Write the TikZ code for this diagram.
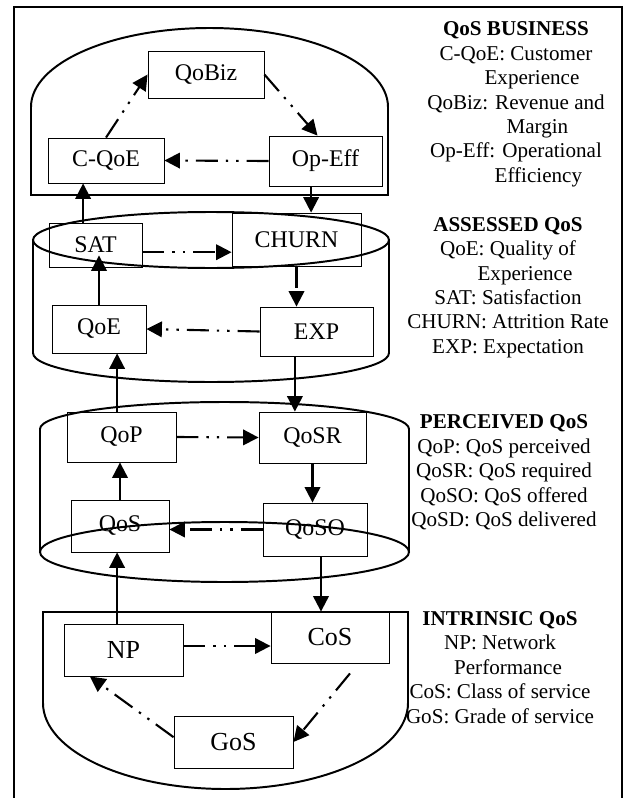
\documentclass[tikz,border=0pt]{standalone}
\usepackage{fontspec}
\setmainfont{Liberation Serif}
\usepackage{tikz}
\usetikzlibrary{calc, arrows.meta, positioning}

\begin{document}
\begin{tikzpicture}[
    qbox/.style={draw, line width=0.6pt, minimum height=1.25cm, inner sep=2pt, font=\fontsize{17}{20}\selectfont},
    flow/.style={-{Triangle[length=11pt,width=11pt]}, line width=1.5pt},
    dashflow/.style={flow, dash pattern=on 0.55cm off 0.2cm on 0.06cm off 0.2cm on 0.06cm off 0.2cm},
    layer/.style={line width=1.4pt},
    legend/.style={align=center, inner sep=0pt, font=\fontsize{15}{17.4}\selectfont}
]
\useasboundingbox (0,0) rectangle (15.675,-19.95);

% Frame
\draw[line width=0.8pt] (0.35,-19.95) -- (0.35,-0.175) -- (15.55,-0.175) -- (15.55,-19.95);

% Layers
\draw[layer] (0.775,-4.875) -- (0.775,-2.675) arc[start angle=180, end angle=0, x radius=4.4625, y radius=1.975] -- (9.7,-4.875) -- cycle;
\draw[layer] (5.275,-6.0) ellipse[x radius=4.45, y radius=0.7];
\draw[layer] (0.825,-6.0) -- (0.825,-8.825) arc[start angle=180, end angle=360, x radius=4.45, y radius=0.725] -- (9.725,-6.0);
\draw[layer] (1.0,-13.8) -- (1.0,-10.725) arc[start angle=180, end angle=0, x radius=4.6125, y radius=0.675] -- (10.225,-13.8);
\draw[layer] (5.6125,-13.8) ellipse[x radius=4.6125, y radius=0.75];
\draw[layer] (1.075,-15.3) -- (1.075,-17.575) arc[start angle=180, end angle=360, x radius=4.5625, y radius=2.15] -- (10.2,-15.3) -- cycle;

% Main Nodes
\node[qbox, minimum width=2.9cm, minimum height=1.175cm] (qobiz) at (5.15,-1.8625) {QoBiz};
\node[qbox, minimum width=2.9cm, minimum height=1.125cm] (cqoe) at (2.65,-4.0125) {C-QoE};
\node[qbox, minimum width=2.825cm] (opeff) at (8.1375,-4.025) {Op-Eff};
\node[qbox, minimum width=2.325cm, minimum height=1.1cm] (sat) at (2.3875,-6.125) {SAT};
\node[qbox, minimum width=3.225cm, minimum height=1.325cm] (churn) at (7.4125,-5.9875) {CHURN};
\node[qbox, minimum width=2.35cm, minimum height=1.2cm] (qoe) at (2.475,-8.225) {QoE};
\node[qbox, minimum width=2.825cm, minimum height=1.225cm] (exp) at (7.9125,-8.2875) {EXP};
\node[qbox, minimum width=2.725cm] (qop) at (3.0375,-10.925) {QoP};
\node[qbox, minimum width=2.675cm, minimum height=1.275cm] (qosr) at (7.8125,-10.9375) {QoSR};
\node[qbox, minimum width=2.45cm, minimum height=1.3cm] (qos) at (3.0,-13.15) {QoS};
\node[qbox, minimum width=2.6cm, minimum height=1.325cm] (qoso) at (7.875,-13.2375) {QoSO};
\node[qbox, minimum width=2.975cm, minimum height=1.3cm, font=\fontsize{18.5}{22}\selectfont] (np) at (3.0875,-16.25) {NP};
\node[qbox, minimum width=2.95cm, minimum height=1.275cm, font=\fontsize{18.5}{22}\selectfont] (cos) at (8.25,-15.9375) {CoS};
\node[qbox, minimum width=2.975cm, minimum height=1.3cm, font=\fontsize{18.5}{22}\selectfont] (gos) at (5.8375,-18.55) {GoS};

% Business arrows
\draw[dashflow] (cqoe.north) -- (qobiz.west);
\draw[dashflow] (qobiz.east) -- ([xshift=-0.2cm]opeff.north);
\draw[dashflow] (opeff.west) -- (cqoe.east);

% Between layers
\draw[flow] ([xshift=-0.36cm]opeff.south) -- ([xshift=-0.36cm]opeff.south |- churn.north);
\draw[flow] ([xshift=-0.31cm]sat.north) -- ([xshift=-0.31cm]sat.north |- cqoe.south);

% Assessed arrows
\draw[dashflow] ([yshift=-0.18cm]sat.east) -- ([yshift=-0.18cm]sat.east -| churn.west);
\draw[dashflow] (churn.south) -- (churn.south |- exp.north);
\draw[dashflow] (exp.west) -- (qoe.east);
\draw[flow] (qoe.north) -- ($(qoe.north |- sat.south)+(0,0.3)$);

% Between layers
\draw[flow] ([xshift=-0.54cm]exp.south) -- ([xshift=-0.54cm]exp.south |- qosr.north);
\draw[flow] ([xshift=-0.11cm]qop.north) -- ([xshift=-0.11cm]qop.north |- qoe.south);

% Perceived arrows
\draw[dashflow] (qop.east) -- (qosr.west);
\draw[flow] (qosr.south) -- (qosr.south |- qoso.north);
\draw[dashflow] (qoso.west) -- (qoso.west -| qos.east);
\draw[flow] (qos.north) -- (qos.north |- qop.south);

% Between layers
\draw[flow] ([xshift=-0.16cm]np.north) -- ([xshift=-0.16cm]np.north |- qos.south);
\draw[flow] ([xshift=0.15cm]qoso.south) -- ([xshift=0.15cm]qoso.south |- cos.north);

% Intrinsic arrows
\draw[dashflow] ([yshift=0.1cm]np.east) -- ([yshift=0.1cm]np.east -| cos.west);
\draw[dashflow] ([xshift=0.5cm,yshift=-0.25cm]cos.south) -- (gos.east);
\draw[dashflow] ([yshift=0.12cm]gos.west) -- ([xshift=-0.84cm]np.south);

% Legends
\node[legend] (bizkey) at (12.9,-2.6075) {\textbf{QoS BUSINESS}\\ C-QoE: Customer\\ \hspace*{0.8cm}Experience\\ QoBiz: Revenue and\\ \hspace*{1.07cm}Margin\\ Op-Eff: Operational\\ \hspace*{1.12cm}Efficiency};
\node[legend] (asskey) at (12.7,-7.1875) {\textbf{ASSESSED QoS}\\ QoE: Quality of\\ \hspace*{0.85cm}Experience\\ SAT: Satisfaction\\ CHURN: Attrition Rate\\ EXP: Expectation};
\node[legend] (perkey) at (12.6,-11.8125) {\textbf{PERCEIVED QoS}\\ QoP: QoS perceived\\ QoSR: QoS required\\ QoSO: QoS offered\\ QoSD: QoS delivered};
\node[legend] (intkey) at (12.5,-16.69) {\textbf{INTRINSIC QoS}\\ NP: Network\hspace*{0.95cm}\\ \hspace*{0.4cm}Performance\\ CoS: Class of service\\ GoS: Grade of service};
\end{tikzpicture}
\end{document}
